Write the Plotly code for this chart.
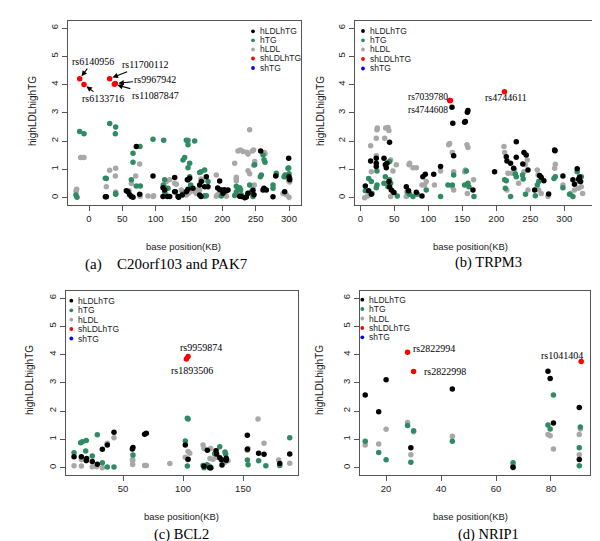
import plotly.graph_objects as go

# ---------------- Panel (a) C20orf103 and PAK7 ----------------
A_HLDLHTG_X = [24.5, 26, 56, 58.5, 61, 63.5, 66, 71, 76, 96, 111, 111, 113.5, 117.5, 121, 128.5, 128.5, 129.5, 133.5, 134.5,
               140, 146, 147.5, 148.5, 148.5, 151, 156, 166, 166, 168, 168.5, 173.5, 176, 178.5, 193, 196, 196, 198.5, 201, 203,
               206, 208.5, 226, 228.5, 233.5, 236, 238.5, 246, 247.5, 257.5, 261, 262.5, 263, 266, 276, 280, 293.5, 299.5, 300, 301]
A_HLDLHTG_Y = [0.03, 0.03, 0.24, 0.21, 0.1, 0.04, 0.01, 1.81, 0.12, 0.77, 0.35, 0.04, 0.27, 0.04, 0.04, 0.71, 0.21, 0.21, 0.04, 0.01,
               0.09, 0.21, 0.63, 0.63, 0.3, 0.69, 0.33, 0.45, 0.09, 0.04, 0.57, 0.39, 0.74, 0.39, 0.34, 0.59, 0.28, 0.27, 0.16, 0.28,
               0.24, 0.27, 0.05, 0.04, 0.0, 0.02, 0.16, 0.26, 0.1, 1.65, 0.27, 0.33, 0.3, 0.27, 0.03, 0.77, 0.21, 1.39, 0.74, 0.63]
A_HTG_X = [-19.5, -18, -14, -7.5, 24.5, 26, 31, 39.5, 40, 40, 40, 63.5, 66, 66, 71, 76.5, 77, 96, 111.5, 112,
           113.5, 113.5, 118.5, 140, 141, 143.5, 146, 148.5, 148.5, 148.5, 151, 151, 152.5, 158.5, 166, 168, 173.5, 173.5, 176, 178.5,
           198.5, 218.5, 221, 221, 223.5, 226, 227.5, 228.5, 238.5, 241, 243.5, 246, 248.5, 257, 258.5, 261, 262.5, 264, 276, 276,
           281, 281, 292.5, 294, 296, 298.5, 299.5, 300, 301]
A_HTG_Y = [0.09, 0.01, 2.34, 2.26, 0.69, 0.68, 2.62, 2.26, 2.5, 0.12, 0.15, 0.63, 1.57, 1.25, 0.41, 1.81, 0.41, 2.07, 0.45, 2.03,
           0.63, 0.2, 0.33, 0.13, 1.33, 1.42, 2.03, 2.02, 1.87, 1.06, 0.74, 1.22, 0.45, 2.0, 0.89, 0.92, 0.98, 0.07, 0.07, 0.57,
           0.06, 0.08, 0.4, 0.2, 0.33, 0.35, 0.27, 0.1, 0.15, 0.45, 0.21, 0.04, 1.16, 0.74, 0.8, 1.51, 1.34, 1.25, 0.45, 0.33,
           0.86, 0.8, 0.74, 0.8, 0.74, 1.04, 1.05, 0.85, 0.69]
A_HLDL_X = [-19.5, -18.5, -12.5, -7.5, 26, 31, 39.5, 40, 40, 60, 63.5, 70, 76, 76.5, 76.5, 88.5, 96, 97, 113.5, 116,
            116, 121, 128.5, 131, 138.5, 141, 146, 146, 148.5, 151, 158.5, 161, 163, 166, 168, 170, 173.5, 191, 191, 193,
            203, 206, 218.5, 221, 221, 221, 223.5, 227, 231, 237, 238.5, 238.5, 241, 241, 245, 246, 247, 247, 248, 248.5,
            263, 264, 291, 293.5, 296, 299.5, 300, 301]
A_HLDL_Y = [0.23, 0.3, 1.42, 1.42, 0.39, 0.97, 0.77, 1.04, 0.2, 0.24, 0.5, 0.77, 1.19, 0.1, 0.05, 0.06, 0.04, 0.07, 0.39, 0.57,
            0.1, 0.63, 0.51, 0.47, 0.27, 0.21, 0.09, 0.2, 0.15, 0.2, 0.21, 0.15, 0.28, 0.28, 0.66, 0.6, 0.04, 0.8, 0.05, 0.1,
            0.1, 0.05, 1.22, 0.6, 0.66, 0.72, 1.65, 1.69, 1.63, 1.61, 1.54, 0.95, 0.85, 2.4, 1.65, 0.34, 1.69, 1.15, 0.45, 1.28,
            1.6, 1.55, 0.15, 0.21, 0.1, 0.6, 0.01, 0.55]
A_SHLDLHTG_X = [-14, -7.5, 31, 39.5, 38]
A_SHLDLHTG_Y = [4.21, 4.0, 4.21, 4.04, 4.01]
A_SNP_LABELS = ["rs6140956", "rs6133716", "rs11700112", "rs9967942", "rs11087847"]

# ---------------- Panel (b) TRPM3 ----------------
B_HLDLHTG_X = [7.4, 12.3, 15.2, 16.2, 23.5, 23.5, 23.5, 34.8, 36.8, 39.2, 38.2, 43, 42, 43, 45.6, 49.5, 67.6, 71, 82.4, 90.7,
               92, 95.6, 108, 118, 134.8, 136, 137.3, 153.4, 154.5, 157.4, 158.3, 165.7, 197.5, 214.7, 215.7, 221, 225.5, 229.4, 229.4, 239,
               240.7, 244, 246.6, 256.4, 263.7, 266, 270, 277, 285.8, 286.3, 298, 312.7, 315, 319, 321, 322.5, 324]
B_HLDLHTG_Y = [0.41, 0.24, 1.3, 0.12, 1.39, 1.22, 1.1, 1.39, 1.16, 1.22, 1.06, 1.96, 0.57, 0.39, 0.27, 0.18, 0.39, 0.24, 0.19, 0.06,
               0.74, 0.83, 0.83, 1.1, 3.2, 2.63, 1.48, 2.67, 2.69, 3.02, 3.08, 0.27, 0.92, 1.45, 1.3, 1.22, 1.04, 1.98, 1.43, 1.19,
               1.6, 1.51, 0.98, 0.27, 0.78, 0.72, 0.6, 0.13, 1.69, 1.66, 0.77, 0.63, 0.47, 1.02, 0.65, 0.73, 0.57]
B_HTG_X = [7.4, 12.3, 16.2, 17.2, 24.5, 24.5, 23.5, 34.8, 36.8, 40.7, 43, 43, 44.6, 48, 54.4, 69, 72.5, 77.5, 84, 97,
           118, 128.9, 135.3, 137.3, 153.4, 155.9, 158.3, 159.7, 167.1, 212.3, 214.7, 213.3, 221, 228, 229.4, 238.5, 239.5, 243, 257.4, 260.3,
           262.4, 284.8, 286.8, 298, 307.8, 312.7, 319, 322.5, 325]
B_HTG_Y = [0.24, 0.68, 0.57, 0.15, 0.94, 0.45, 0.35, 0.51, 0.74, 0.39, 1.28, 0.63, 0.51, 0.21, 0.06, 0.21, 0.12, 0.04, 0.12, 0.27,
           0.04, 0.45, 0.45, 0.8, 0.45, 0.94, 0.51, 0.39, 0.04, 0.63, 0.6, 0.33, 0.04, 0.84, 0.74, 0.8, 0.66, 0.12, 0.07, 0.45,
           0.57, 0.68, 0.74, 0.35, 0.12, 0.04, 0.92, 0.57, 0.74]
B_HLDL_X = [6.4, 11, 15.2, 16.2, 23.5, 23.5, 24.5, 25, 35.8, 37.3, 40.7, 42, 44.6, 48, 52.9, 41, 44.6, 67.6, 71.6, 72.5,
            77.5, 82.4, 90.7, 94.6, 97, 118, 109, 129.9, 131.4, 135.3, 135.3, 137.3, 137.3, 153.4, 154.4, 156.9, 158.3, 157.4, 166.6, 211.3,
            212.3, 215.7, 217.2, 223, 227, 232.8, 240.7, 242.6, 245.6, 246.6, 260.3, 261.4, 262.4, 266, 276, 285.8, 286.8, 298, 309.3, 315,
            321, 325, 327]
B_HLDL_Y = [0.0, 0.06, 1.84, 0.92, 1.48, 2.1, 2.4, 2.46, 2.1, 2.46, 2.48, 2.38, 1.33, 0.94, 1.16, 0.45, 0.04, 0.04, 1.16, 1.22,
            1.06, 1.06, 0.45, 0.45, 0.57, 0.94, 0.45, 1.87, 1.92, 1.6, 0.39, 0.27, 0.92, 0.92, 0.98, 1.87, 1.77, 0.15, 0.63, 1.81,
            1.6, 0.27, 0.86, 0.86, 0.98, 0.51, 0.92, 1.16, 1.33, 0.27, 0.98, 0.8, 0.27, 0.15, 0.04, 1.04, 1.18, 0.45, 0.15, 0.27,
            0.33, 0.39, 0.15]
B_SHLDLHTG_X = [131.4, 132.5, 212]
B_SHLDLHTG_Y = [3.44, 3.44, 3.75]
B_SNP_LABELS = ["rs7039780", "rs4744608", "rs4744611"]

# ---------------- Panel (c) BCL2 ----------------
C_HLDLHTG_X = [9.2, 15.3, 19.7, 19.4, 24.4, 28.6, 32.8, 36.9, 42.5, 57.8, 58.3, 68, 69.4, 101.9, 104.2, 117.5, 120.3, 122.2, 123, 127.5,
               128, 130.6, 132, 132.5, 136, 136, 153.6, 153.6, 163, 167.5, 180.6, 188.9]
C_HLDLHTG_Y = [0.39, 0.39, 0.32, 0.25, 0.22, 0.12, 0.65, 0.8, 1.25, 0.66, 0.71, 1.18, 1.22, 0.8, 0.3, 0.05, 0.62, 0.0, 0.0, 0.6,
               0.48, 0.35, 0.28, 0.09, 0.33, 0.26, 1.15, 0.65, 0.51, 0.47, 0.15, 0.48]
C_HTG_X = [9.2, 14.7, 16.1, 19.4, 18.9, 24.4, 28.6, 32.8, 36.9, 42.5, 58.3, 101.9, 103.6, 104.2, 103.6, 116.7, 117.5, 120, 122, 123.3,
           126.4, 130.6, 135, 135.5, 153.6, 154.2, 163, 169, 180.6, 188.9]
C_HTG_Y = [0.53, 0.88, 0.92, 0.96, 0.59, 0.41, 1.16, 0.17, 0.02, 0.02, 0.45, 0.94, 1.75, 1.72, 0.06, 0.08, 0.0, 0.1, 0.05, 0.0,
           0.49, 0.74, 0.55, 0.48, 0.27, 0.1, 0.24, 0.07, 0.08, 1.06]
C_HLDL_X = [9.2, 15.3, 15.3, 19.4, 24.4, 28, 32.8, 36.9, 42.5, 58, 58, 58, 68, 69.4, 89, 104.2, 105.6, 101.9, 104, 116.7,
            117.5, 123, 122.5, 125, 127.8, 135, 137.5, 154.2, 153.6, 162.5, 167.5, 179.7, 188.9]
C_HLDL_Y = [0.07, 0.29, 0.06, 0.24, 0.03, 0.03, 0.0, 0.86, 1.06, 0.3, 0.24, 0.11, 0.08, 0.08, 0.15, 0.57, 0.51, 0.37, 0.28, 0.8,
            0.68, 0.68, 0.32, 0.3, 0.37, 0.19, 0.24, 0.68, 0.62, 1.72, 0.86, 0.27, 0.16]
C_SHLDLHTG_X = [102.8, 104.2]
C_SHLDLHTG_Y = [3.84, 3.93]
C_SNP_LABELS = ["rs1893506", "rs9959874"]

# ---------------- Panel (d) NRIP1 ----------------
D_HLDLHTG_X = [12.4, 17.3, 20, 29, 44.1, 66.2, 78.9, 79.7, 80.9, 90.3, 90.3]
D_HLDLHTG_Y = [2.57, 1.98, 3.11, 0.7, 2.78, 0.01, 3.41, 3.15, 1.58, 2.13, 0.29]
D_HTG_X = [12.4, 17.3, 20, 27.8, 29, 30, 44.1, 66.2, 78.9, 79.7, 80.9, 90.3, 90.7, 90.3]
D_HTG_Y = [0.93, 0.54, 0.28, 1.49, 0.19, 1.31, 0.93, 0.17, 1.51, 1.37, 2.57, 0.7, 1.44, 0.07]
D_HLDL_X = [12.4, 17.3, 20, 27.8, 30, 29, 44.1, 66.2, 66.2, 78.9, 79.7, 80.9, 90.3, 90.3, 90.7]
D_HLDL_Y = [0.8, 0.84, 1.36, 1.6, 1.27, 0.46, 1.11, 0.0, 0.08, 1.17, 1.13, 0.66, 1.17, 0.46, 1.37]
D_SHLDLHTG_X = [27.8, 30, 91]
D_SHLDLHTG_Y = [4.08, 3.4, 3.76]
D_SNP_LABELS = ["rs2822994", "rs2822998", "rs1041404"]

# shTG has no points in any panel
SHTG_X = []
SHTG_Y = []

SERIES_NAMES = ["hLDLhTG", "hTG", "hLDL", "shLDLhTG", "shTG"]
SERIES_COLORS = ["#000000", "#2E8B62", "#A8A8A8", "#FF0000", "#0000FF"]

CAPTIONS = ["(a)", "C20orf103 and PAK7", "(b) TRPM3", "(c) BCL2", "(d) NRIP1"]
X_TITLE = "base position(KB)"
Y_TITLE = "highLDLhighTG"
Y_TICKS = [0, 1, 2, 3, 4, 5, 6]
A_X_TICKS = [0, 50, 100, 150, 200, 250, 300]
B_X_TICKS = [0, 50, 100, 150, 200, 250, 300]
C_X_TICKS = [50, 100, 150]
D_X_TICKS = [20, 40, 60, 80]

W, H = 600, 541
def px(x): return x / W
def py(y): return 1 - y / H

SANS = "Liberation Sans, Arial, sans-serif"
SERIF = "Liberation Serif, Times New Roman, serif"
TXT = "#1a1a1a"
LINE = "#555555"

fig = go.Figure()

panels = [
    dict(ax="", data=[(A_HLDL_X, A_HLDL_Y, 2), (A_HTG_X, A_HTG_Y, 1), (A_HLDLHTG_X, A_HLDLHTG_Y, 0), (A_SHLDLHTG_X, A_SHLDLHTG_Y, 3)],
         xd=[60, 293], yd=[13, 197], xr=[-31.5, 318], xt=A_X_TICKS),
    dict(ax="2", data=[(B_HLDL_X, B_HLDL_Y, 2), (B_HTG_X, B_HTG_Y, 1), (B_HLDLHTG_X, B_HLDLHTG_Y, 0), (B_SHLDLHTG_X, B_SHLDLHTG_Y, 3)],
         xd=[347, 593], yd=[13, 197], xr=[-7.8, 354], xt=B_X_TICKS),
    dict(ax="3", data=[(C_HLDL_X, C_HLDL_Y, 2), (C_HTG_X, C_HTG_Y, 1), (C_HLDLHTG_X, C_HLDLHTG_Y, 0), (C_SHLDLHTG_X, C_SHLDLHTG_Y, 3)],
         xd=[58, 290], yd=[283, 467], xr=[2.5, 195.8], xt=C_X_TICKS),
    dict(ax="4", data=[(D_HLDL_X, D_HLDL_Y, 2), (D_HTG_X, D_HTG_Y, 1), (D_HLDLHTG_X, D_HLDLHTG_Y, 0), (D_SHLDLHTG_X, D_SHLDLHTG_Y, 3)],
         xd=[352, 582], yd=[283, 467], xr=[10.5, 94.2], xt=D_X_TICKS),
]

layout = {}
for p in panels:
    a = p["ax"]
    for xs, ys, ci in p["data"] + [(SHTG_X, SHTG_Y, 4)]:
        fig.add_trace(go.Scatter(x=xs, y=ys, mode="markers", name=SERIES_NAMES[ci],
                                 marker=dict(color=SERIES_COLORS[ci], size=5.5, line=dict(width=0)),
                                 xaxis="x" + a, yaxis="y" + a, showlegend=False))
    common = dict(showline=True, mirror=True, linecolor=LINE, linewidth=1, ticks="outside", ticklen=5,
                  tickcolor=LINE, tickwidth=1, showgrid=False, zeroline=False,
                  tickfont=dict(family=SANS, size=9.5, color=TXT))
    layout["xaxis" + a] = dict(domain=[px(p["xd"][0]), px(p["xd"][1])], anchor="y" + a, range=p["xr"],
                               tickmode="array", tickvals=p["xt"], **common)
    layout["yaxis" + a] = dict(domain=[py(p["yd"][1]), py(p["yd"][0])], anchor="x" + a, range=[-0.26, 6.25],
                               tickmode="array", tickvals=Y_TICKS, tickangle=-90, **common)

fig.update_layout(**layout)

ann = []
# axis titles
for (xc, yc, yx, yy) in [(175, 238, 25, 103), (463, 238, 313, 103), (173, 508, 21, 372), (463, 508, 311, 372)]:
    ann.append(dict(xref="paper", yref="paper", x=px(xc), y=py(yc), text=X_TITLE, showarrow=False,
                    font=dict(family=SANS, size=9.5, color=TXT), xanchor="center", yanchor="middle"))
    ann.append(dict(xref="paper", yref="paper", x=px(yx), y=py(yy), text=Y_TITLE, showarrow=False, textangle=-90,
                    font=dict(family=SANS, size=10, color=TXT), xanchor="center", yanchor="middle"))
# captions
for txt, xc, yc, sz in [(CAPTIONS[0], 85, 256, 15), (CAPTIONS[1], 174, 256, 15), (CAPTIONS[2], 480, 255, 14.5),
                        (CAPTIONS[3], 173, 526, 14.5), (CAPTIONS[4], 480, 526, 14.5)]:
    ann.append(dict(xref="paper", yref="paper", x=px(xc), y=py(yc), text=txt, showarrow=False,
                    font=dict(family=SERIF, size=sz, color="#000"), xanchor="center", yanchor="middle"))

# legends
for mx, rows in [(245, [23.3, 32.3, 41.5, 50.5, 60]), (355, [23, 32.3, 41.5, 51, 60.5]),
                 (63.3, [292.7, 302.3, 311.7, 321, 330.5]), (354.3, [291.7, 301, 310.5, 320, 329.3])]:
    for i, ry in enumerate(rows):
        fig.add_shape(type="circle", xref="paper", yref="paper", xsizemode="pixel", ysizemode="pixel",
                      xanchor=px(mx), yanchor=py(ry), x0=-1.9, x1=1.9, y0=-1.9, y1=1.9,
                      fillcolor=SERIES_COLORS[i], line=dict(width=0))
        ann.append(dict(xref="paper", yref="paper", x=px(mx + 4.5), y=py(ry), text=SERIES_NAMES[i], showarrow=False,
                        font=dict(family=SANS, size=8.5, color=TXT), xanchor="left", yanchor="middle"))

snpfont = dict(family=SERIF, size=10, color="#000")
# panel a labels with arrows
for i, (axo, ayo) in enumerate([(13, -17), (19, 14), (35, -14), (40, -4), (41, 11)]):
    ann.append(dict(xref="x", yref="y", x=A_SHLDLHTG_X[i], y=A_SHLDLHTG_Y[i], ax=axo, ay=ayo,
                    text=A_SNP_LABELS[i], showarrow=True, arrowhead=2, arrowsize=1, arrowwidth=1.1,
                    arrowcolor="#000", standoff=3, font=snpfont))
# panel b (two labels stacked tightly as in the original)
bfont = dict(family=SERIF, size=9.5, color="#000")
ann.append(dict(xref="x2", yref="y2", x=B_SHLDLHTG_X[0], y=B_SHLDLHTG_Y[0], text=B_SNP_LABELS[0], showarrow=False,
                xanchor="right", yanchor="bottom", xshift=-1, yshift=-3, borderpad=0, font=bfont))
ann.append(dict(xref="x2", yref="y2", x=B_SHLDLHTG_X[0], y=B_SHLDLHTG_Y[0], text=B_SNP_LABELS[1], showarrow=False,
                xanchor="right", yanchor="top", xshift=-1, yshift=-3.5, borderpad=0, font=bfont))
ann.append(dict(xref="x2", yref="y2", x=B_SHLDLHTG_X[2], y=B_SHLDLHTG_Y[2], text=B_SNP_LABELS[2], showarrow=False,
                xanchor="center", yanchor="middle", xshift=1.5, yshift=-6, font=snpfont))
# panel c
ann.append(dict(xref="x3", yref="y3", x=C_SHLDLHTG_X[1], y=C_SHLDLHTG_Y[1], text=C_SNP_LABELS[1], showarrow=False,
                xanchor="center", yanchor="middle", xshift=13, yshift=9, font=snpfont))
ann.append(dict(xref="x3", yref="y3", x=C_SHLDLHTG_X[0], y=C_SHLDLHTG_Y[0], text=C_SNP_LABELS[0], showarrow=False,
                xanchor="center", yanchor="middle", xshift=6, yshift=-11.5, font=snpfont))
# panel d
ann.append(dict(xref="x4", yref="y4", x=D_SHLDLHTG_X[0], y=D_SHLDLHTG_Y[0], text=D_SNP_LABELS[0], showarrow=False,
                xanchor="left", yanchor="middle", xshift=3, yshift=3.5, font=snpfont))
ann.append(dict(xref="x4", yref="y4", x=D_SHLDLHTG_X[1], y=D_SHLDLHTG_Y[1], text=D_SNP_LABELS[1], showarrow=False,
                xanchor="left", yanchor="middle", xshift=8, yshift=0, font=snpfont))
ann.append(dict(xref="x4", yref="y4", x=D_SHLDLHTG_X[2], y=D_SHLDLHTG_Y[2], text=D_SNP_LABELS[2], showarrow=False,
                xanchor="right", yanchor="middle", xshift=4, yshift=6, font=snpfont))

fig.update_layout(width=W, height=H, margin=dict(l=0, r=0, t=0, b=0), paper_bgcolor="white",
                  plot_bgcolor="white", showlegend=False, annotations=ann)

fig.write_html("out.html")
